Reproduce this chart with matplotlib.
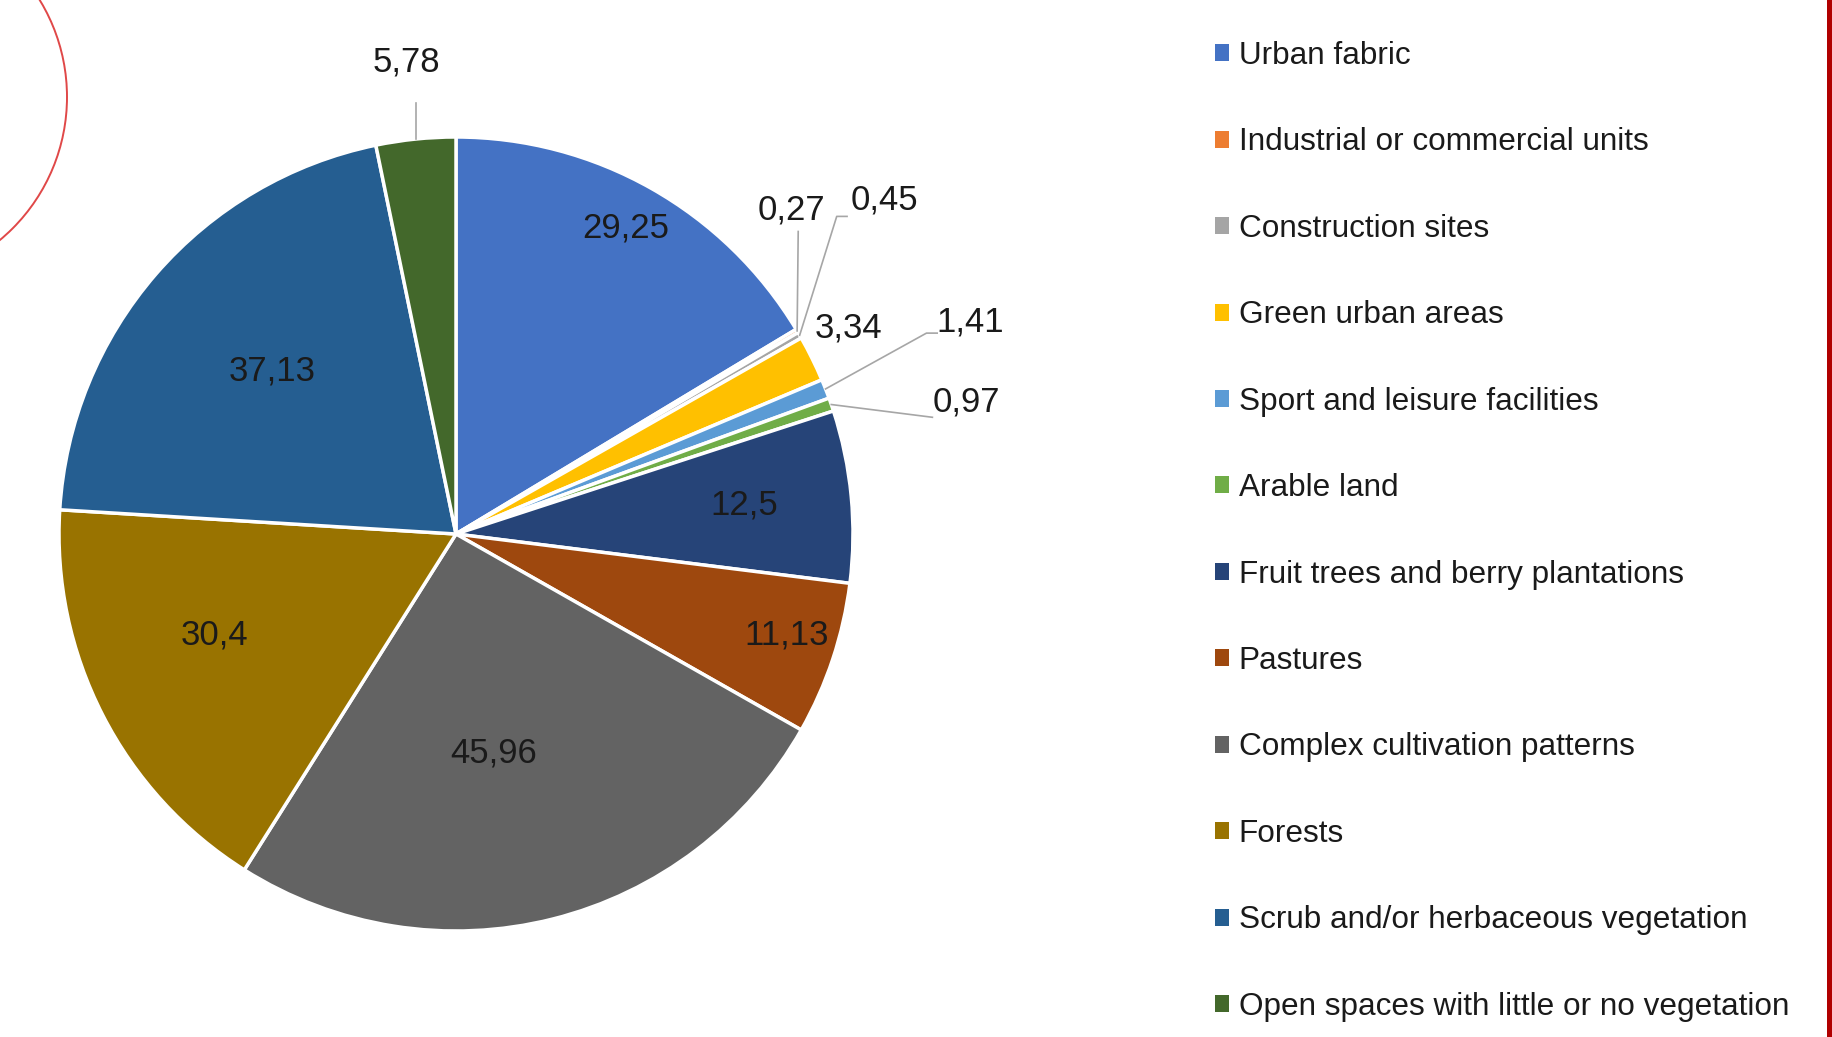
#!/usr/bin/env python3
"""
Land cover pie chart (CORINE-style classes) with legend on the right.
"""

import numpy as np
import matplotlib.pyplot as plt
from matplotlib.patches import Patch, Circle, Rectangle

# --- data ---
categories = [
    "Urban fabric",
    "Industrial or commercial units",
    "Construction sites",
    "Green urban areas",
    "Sport and leisure facilities",
    "Arable land",
    "Fruit trees and berry plantations",
    "Pastures",
    "Complex cultivation patterns",
    "Forests",
    "Scrub and/or herbaceous vegetation",
    "Open spaces with little or no vegetation",
]
values = [29.25, 0.27, 0.45, 3.34, 1.41, 0.97, 12.5, 11.13, 45.96, 30.4, 37.13, 5.78]
colors = ["#4472C4", "#ED7D31", "#A5A5A5", "#FFC000", "#5B9BD5", "#70AD47",
          "#264478", "#9E480E", "#636363", "#997300", "#255E91", "#43682B"]

# label placement: inside labels -> (radius factor, angle shift in deg) from wedge mid angle
inside_pos = {0: (0.88, 0.5), 6: (0.73, 0.3), 7: (0.87, 1.4), 8: (0.56, -4.4),
              9: (0.66, -4.5), 10: (0.62, -0.6)}
# outside labels -> (text x, text y, ha, leader points after wedge edge)
outside = {
    1: (0.844, 0.815, "center", [(0.862, 0.762)]),
    2: (0.995, 0.842, "left", [(0.959, 0.80), (0.985, 0.80)]),
    3: (0.988, 0.518, "center", []),
    4: (1.294, 0.535, "center", [(1.185, 0.506), (1.212, 0.506)]),
    5: (1.285, 0.332, "center", [(1.20, 0.294)]),
    11: (-0.126, 1.188, "center", [(None, 1.085)]),
}

FONT = ["Liberation Sans", "DejaVu Sans"]
TXT = "#1a1a1a"
W, H = 1833, 1037


def fmt(v):
    return f"{v:g}".replace(".", ",")


def main():
    plt.rcParams["font.family"] = FONT
    fig = plt.figure(figsize=(W / 100, H / 100), dpi=100)
    fig.patch.set_facecolor("white")

    # slide decorations (pixel coordinates)
    bg = fig.add_axes([0, 0, 1, 1], zorder=-1)
    bg.set_xlim(0, W)
    bg.set_ylim(H, 0)
    bg.axis("off")
    bg.add_patch(Circle((-119, 97), 186, fill=False, edgecolor="#E04848", linewidth=1.4))
    bg.add_patch(Rectangle((1827, 0), 7, H, color="#B00000", linewidth=0))

    # pie axes: centre (456, 534) px, radius 397 px
    cx, cy, r = 456, 534, 397
    ax = fig.add_axes([(cx - r) / W, (H - cy - r) / H, 2 * r / W, 2 * r / H])
    wedges, _ = ax.pie(values, colors=colors, startangle=90, counterclock=False,
                       radius=1, wedgeprops=dict(edgecolor="white", linewidth=2.5))
    ax.set_xlim(-1, 1)
    ax.set_ylim(-1, 1)
    ax.axis("off")

    for i, w in enumerate(wedges):
        mid = (w.theta1 + w.theta2) / 2
        ang = np.deg2rad(mid)
        ex, ey = np.cos(ang), np.sin(ang)
        if i in inside_pos:
            k, dth = inside_pos[i]
            a2 = np.deg2rad(mid + dth)
            ax.text(k * np.cos(a2), k * np.sin(a2), fmt(values[i]), ha="center",
                    va="center", fontsize=25, color=TXT)
        elif i in outside:
            tx, ty, ha, pts = outside[i]
            ax.text(tx, ty, fmt(values[i]), ha=ha, va="center", fontsize=25,
                    color=TXT, clip_on=False)
            if pts:
                xs = [ex] + [ex if p[0] is None else p[0] for p in pts]
                ys = [ey] + [p[1] for p in pts]
                ax.plot(xs, ys, color="#A6A6A6", linewidth=1.2, clip_on=False)

    # legend
    handles = [Patch(facecolor=c, edgecolor="none") for c in colors]
    fig.legend(handles, categories, loc="upper left",
               bbox_to_anchor=(1215 / W, 1 - 41 / H), frameon=False,
               fontsize=22.7, labelspacing=1.79, handlelength=0.45,
               handleheight=0.45, handletextpad=0.3, borderpad=0,
               borderaxespad=0, labelcolor=TXT)

    fig.savefig("out.png", dpi=100)
    plt.close(fig)


if __name__ == "__main__":
    main()
